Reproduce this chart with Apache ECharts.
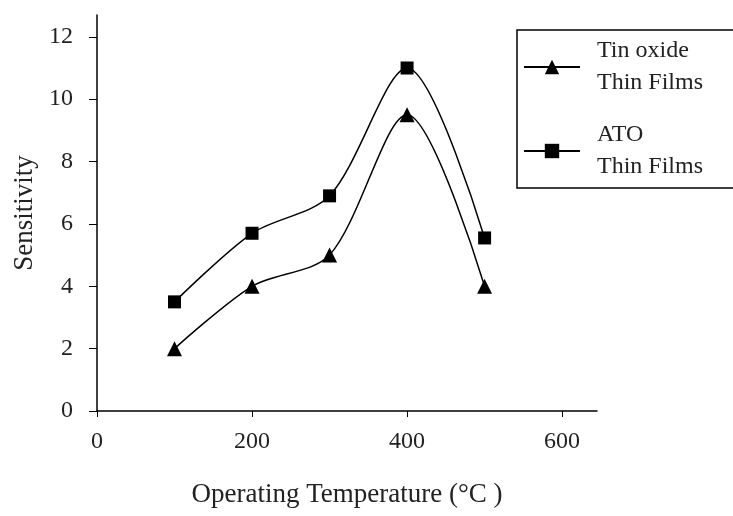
<!DOCTYPE html>
<html><head><meta charset="utf-8">
<script src="https://cdn.jsdelivr.net/npm/echarts@6/dist/echarts.min.js"></script>
<style>html,body{margin:0;padding:0;background:#fff}#c{width:733px;height:516px}</style>
</head><body><div id="c"></div>
<script>
const temperatures = [100, 200, 300, 400, 500];
const tinOxide = [2.0, 4.0, 5.0, 9.5, 4.0];
const ato = [3.5, 5.7, 6.9, 11.0, 5.55];
const seriesNames = ['Tin oxide\nThin Films', 'ATO\nThin Films'];
const xTicks = [0, 200, 400, 600];
const yTicks = [0, 2, 4, 6, 8, 10, 12];

const font = 'Liberation Serif';
const chart = echarts.init(document.getElementById('c'));
chart.setOption({
  animation: false,
  backgroundColor: '#fff',
  grid: {left: 97, top: 15, right: 136, bottom: 105, containLabel: false},
  legend: {
    data: seriesNames,
    orient: 'vertical',
    left: 517, top: 30,
    padding: [5, 40, 5, 6],
    itemGap: 20,
    itemWidth: 56, itemHeight: 18,
    borderColor: '#000', borderWidth: 1.5, borderRadius: 0,
    textStyle: {fontFamily: font, fontSize: 24, color: '#222', lineHeight: 32, padding: [0, 0, 0, 12]}
  },
  xAxis: {
    type: 'value', min: 0, max: 645,
    name: 'Operating Temperature (°C )', nameLocation: 'middle', nameGap: 70,
    nameTextStyle: {fontFamily: font, fontSize: 27, color: '#222'},
    axisLine: {onZero: false, lineStyle: {color: '#000', width: 1.5}},
    axisTick: {show: true, length: 6, customValues: xTicks, lineStyle: {color: '#000'}},
    axisLabel: {customValues: xTicks, fontFamily: font, fontSize: 24, color: '#222', margin: 19},
    splitLine: {show: false}
  },
  yAxis: {
    type: 'value', min: 0, max: 12.7,
    name: 'Sensitivity', nameLocation: 'middle', nameGap: 56,
    nameTextStyle: {fontFamily: font, fontSize: 27, color: '#222'},
    axisLine: {show: true, onZero: false, lineStyle: {color: '#000', width: 1.5}},
    axisTick: {show: true, length: 8, customValues: yTicks, lineStyle: {color: '#000'}},
    axisLabel: {customValues: yTicks, fontFamily: font, fontSize: 24, color: '#222', margin: 24},
    splitLine: {show: false}
  },
  series: [
    {name: seriesNames[0], type: 'line', smooth: 0.3,
     data: temperatures.map((t, i) => [t, tinOxide[i]]),
     symbol: 'triangle', symbolSize: 15,
     lineStyle: {color: '#000', width: 1.5}, itemStyle: {color: '#000'}},
    {name: seriesNames[1], type: 'line', smooth: 0.3,
     data: temperatures.map((t, i) => [t, ato[i]]),
     symbol: 'rect', symbolSize: 13,
     lineStyle: {color: '#000', width: 1.5}, itemStyle: {color: '#000'}}
  ]
});
</script></body></html>
